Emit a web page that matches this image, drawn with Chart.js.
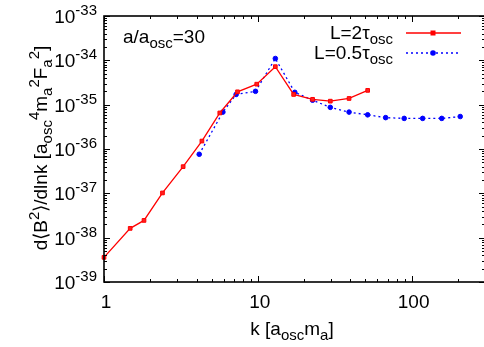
<!DOCTYPE html>
<html>
<head>
<meta charset="utf-8">
<script src="https://cdn.jsdelivr.net/npm/chart.js@4.4.0/dist/chart.umd.min.js"></script>
<style>
  html, body { margin: 0; padding: 0; background: #fff; overflow: hidden; }
  #wrap { width: 490px; height: 347px; position: relative; }
</style>
</head>
<body>
<div id="wrap"><canvas id="myChart" width="490" height="347"></canvas></div>
<script>
// L = 2 tau_osc
var kLong = [1, 1.48, 1.82, 2.4, 3.27, 4.33, 5.66, 7.38, 9.84, 13.0, 17.1, 22.7, 29.6, 39.2, 51.8];
var bLong = [3.6e-39, 1.62e-38, 2.45e-38, 1.02e-37, 4.0e-37, 1.51e-36, 6.5e-36, 1.95e-35, 2.9e-35, 7.2e-35, 1.7e-35, 1.32e-35, 1.2e-35, 1.38e-35, 2.1e-35];

// L = 0.5 tau_osc
var kShort = [4.16, 5.93, 7.23, 9.66, 13.0, 17.4, 22.7, 29.6, 39.2, 51.8, 67.8, 89.5, 118, 157, 207];
var bShort = [7.6e-37, 6.8e-36, 1.7e-35, 2.0e-35, 1.1e-34, 1.9e-35, 1.26e-35, 8.7e-36, 6.8e-36, 5.9e-36, 5.1e-36, 4.9e-36, 4.9e-36, 4.9e-36, 5.4e-36];

var xTicks = [1, 10, 100];
var xTickLabels = ['1', '10', '100'];
var yExps = [-39, -38, -37, -36, -35, -34, -33];

var FONT = '"Liberation Sans", Arial, Helvetica, sans-serif';
var BIG = 19, SMALL = 15;

function pairs(xs, ys) {
    var out = [];
    for (var i = 0; i < xs.length; i++) out.push({x: xs[i], y: ys[i]});
    return out;
}

// parts: [[text, kind]], kind 'n' | 'sup' | 'sub'
function richWidth(ctx, parts) {
    var w = 0;
    parts.forEach(function (p) {
        ctx.font = (p[1] === 'n' ? BIG : SMALL) + 'px ' + FONT;
        w += ctx.measureText(p[0]).width;
    });
    return w;
}

function richText(ctx, parts, x, y, align) {
    var w = richWidth(ctx, parts);
    if (align === 'right') x -= w;
    else if (align === 'center') x -= w / 2;
    ctx.textBaseline = 'alphabetic';
    ctx.textAlign = 'left';
    parts.forEach(function (p) {
        ctx.font = (p[1] === 'n' ? BIG : SMALL) + 'px ' + FONT;
        var dy = p[1] === 'sup' ? -8 : (p[1] === 'sub' ? 5 : 0);
        ctx.fillText(p[0], x, y + dy);
        x += ctx.measureText(p[0]).width;
    });
}

var framePlugin = {
    id: 'frame',
    afterDraw: function (chart) {
        var ctx = chart.ctx;
        var a = chart.chartArea;
        var xs = chart.scales.x, ys = chart.scales.y;
        ctx.save();
        ctx.strokeStyle = '#000';
        ctx.fillStyle = '#000';

        // ticks on all four sides, pointing inward
        ctx.lineWidth = 1;
        ctx.beginPath();
        for (var d = 0; d <= 2; d++) {
            for (var m = 1; m <= 9; m++) {
                var v = m * Math.pow(10, d);
                if (v > xs.max) break;
                var px = Math.round(xs.getPixelForValue(v)) + 0.5;
                var len = m === 1 ? 6 : 3;
                ctx.moveTo(px, a.bottom); ctx.lineTo(px, a.bottom - len);
                ctx.moveTo(px, a.top); ctx.lineTo(px, a.top + len);
            }
        }
        for (var e = -39; e <= -33; e++) {
            for (var mm = 1; mm <= 9; mm++) {
                if (e === -33 && mm > 1) break;
                var py = Math.round(ys.getPixelForValue(mm * Math.pow(10, e))) + 0.5;
                var l2 = mm === 1 ? 6 : 3;
                ctx.moveTo(a.left, py); ctx.lineTo(a.left + l2, py);
                ctx.moveTo(a.right, py); ctx.lineTo(a.right - l2, py);
            }
        }
        ctx.stroke();

        ctx.lineWidth = 1.6;
        ctx.strokeRect(a.left, a.top, a.right - a.left, a.bottom - a.top);

        // x tick labels
        xTicks.forEach(function (v, i) {
            richText(ctx, [[xTickLabels[i], 'n']], xs.getPixelForValue(v) + 2, a.bottom + 26, 'center');
        });
        // y tick labels
        yExps.forEach(function (e) {
            richText(ctx, [['10', 'n'], [String(e), 'sup']], a.left - 7, ys.getPixelForValue(Math.pow(10, e)) + 7, 'right');
        });

        // axis titles
        richText(ctx, [['k [a', 'n'], ['osc', 'sub'], ['m', 'n'], ['a', 'sub'], [']', 'n']], 292, 335, 'center');
        ctx.save();
        ctx.translate(47, 148);
        ctx.rotate(-Math.PI / 2);
        richText(ctx, [['d\u27E8B', 'n'], ['2', 'sup'], ['\u27E9/dlnk [a', 'n'], ['osc', 'sub'], ['4', 'sup'],
            ['m', 'n'], ['a', 'sub'], ['2', 'sup'], ['F', 'n'], ['a', 'sub'], ['2', 'sup'], [']', 'n']], 0, 0, 'center');
        ctx.restore();

        // annotation
        richText(ctx, [['a/a', 'n'], ['osc', 'sub'], ['=30', 'n']], 123, 43, 'left');

        // legend
        richText(ctx, [['L=2\u03C4', 'n'], ['osc', 'sub']], 393, 39, 'right');
        richText(ctx, [['L=0.5\u03C4', 'n'], ['osc', 'sub']], 393, 59, 'right');

        ctx.lineWidth = 1.5;
        ctx.strokeStyle = '#ff0000';
        ctx.beginPath(); ctx.moveTo(406, 33); ctx.lineTo(461, 33); ctx.stroke();
        ctx.fillStyle = '#ff0000';
        ctx.fillRect(430.5, 30.5, 5, 5);

        ctx.strokeStyle = '#0000ff';
        ctx.setLineDash([2, 3]);
        ctx.beginPath(); ctx.moveTo(406, 53); ctx.lineTo(461, 53); ctx.stroke();
        ctx.setLineDash([]);
        ctx.fillStyle = '#0000ff';
        ctx.beginPath(); ctx.arc(433, 53, 2.8, 0, Math.PI * 2); ctx.fill();

        ctx.restore();
    }
};

new Chart(document.getElementById('myChart'), {
    type: 'line',
    data: {
        datasets: [{
            label: 'L=2tau_osc',
            data: pairs(kLong, bLong),
            borderColor: '#ff0000',
            backgroundColor: '#ff2020',
            borderWidth: 1.3,
            pointStyle: 'rect',
            pointRadius: 2.6,
            pointBorderWidth: 1,
            tension: 0,
            clip: false
        }, {
            label: 'L=0.5tau_osc',
            data: pairs(kShort, bShort),
            borderColor: '#0000ff',
            backgroundColor: '#0000ff',
            borderWidth: 1.3,
            borderDash: [2, 3],
            pointStyle: 'circle',
            pointRadius: 2.3,
            pointBorderWidth: 1,
            tension: 0,
            clip: false
        }]
    },
    options: {
        responsive: false,
        animation: false,
        devicePixelRatio: 1,
        layout: { padding: { left: 104, top: 16, right: 4, bottom: 65 } },
        plugins: { legend: { display: false }, tooltip: { enabled: false } },
        scales: {
            x: { type: 'logarithmic', min: 1, max: 300, display: false },
            y: { type: 'logarithmic', min: 1e-39, max: 1e-33, display: false }
        }
    },
    plugins: [framePlugin]
});
</script>
</body>
</html>
